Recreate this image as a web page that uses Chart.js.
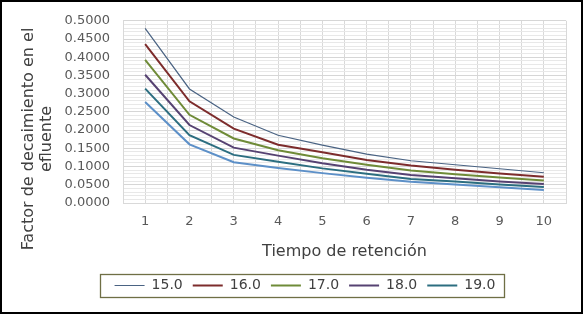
<!DOCTYPE html>
<html>
<head>
<meta charset="utf-8">
<script src="https://cdn.jsdelivr.net/npm/chart.js@4/dist/chart.umd.min.js"></script>
<style>
  body { margin: 0; background: #fff; }
  #wrap { width: 586px; height: 317px; }
</style>
</head>
<body>
<div id="wrap"><canvas id="decay_chart" width="586" height="317"></canvas></div>
<script>
// tiempo de retencion
const tiempo = [1, 2, 3, 4, 5, 6, 7, 8, 9, 10];

// factor de decaimiento
const serie_15 = [0.479, 0.313, 0.236, 0.186, 0.159, 0.134, 0.116, 0.105, 0.094, 0.083];
const serie_16 = [0.436, 0.279, 0.204, 0.160, 0.139, 0.118, 0.103, 0.091, 0.081, 0.072];
const serie_17 = [0.393, 0.242, 0.177, 0.145, 0.123, 0.105, 0.089, 0.079, 0.070, 0.062];
const serie_18 = [0.352, 0.214, 0.152, 0.130, 0.109, 0.091, 0.077, 0.068, 0.059, 0.052];
const serie_19 = [0.314, 0.186, 0.132, 0.113, 0.095, 0.080, 0.066, 0.059, 0.051, 0.044];
const serie_20 = [0.277, 0.161, 0.112, 0.096, 0.082, 0.069, 0.058, 0.051, 0.043, 0.036];

const series_labels = ['15.0', '16.0', '17.0', '18.0', '19.0', '20.0'];

const y_title = ['Factor de decaimiento en el', 'efluente'];
const x_title = 'Tiempo de retención';

const font_name = "'DejaVu Sans', sans-serif";

function makeSet(label, data, color, width, inLegend) {
    let points = []
    for (let i = 0; i < tiempo.length; i++) {
        points.push({ x: tiempo[i], y: data[i] })
    }
    return {
        label: label,
        data: points,
        borderColor: color,
        backgroundColor: color,
        borderWidth: width,
        pointRadius: 0,
        tension: 0,
        fill: false,
        inLegend: inLegend
    };
}

// frame, legend box and the rotated y title
const extrasPlugin = {
    id: 'extras',
    afterLayout(chart) {
        chart.legend.left += 22;
        chart.legend.right += 22;
    },
    afterDraw(chart) {
        const ctx = chart.ctx;
        ctx.save();

        // legend box
        const boxes = chart.legend.legendHitBoxes;
        if (boxes && boxes.length) {
            let l = Infinity, r = -Infinity;
            boxes.forEach(b => { l = Math.min(l, b.left); r = Math.max(r, b.left + b.width); });
            const mid = boxes[0].top + boxes[0].height / 2;
            ctx.strokeStyle = '#6f6f45';
            ctx.lineWidth = 1.3;
            ctx.strokeRect(Math.round(l - 15) + 0.5, Math.round(mid - 11.5) + 0.5, Math.round(r - l + 23), 23);
        }

        // y axis title
        ctx.fillStyle = '#404040';
        ctx.font = '16px ' + font_name;
        ctx.textAlign = 'center';
        ctx.textBaseline = 'middle';
        ctx.translate(0, 139);
        ctx.rotate(-Math.PI / 2);
        ctx.fillText(y_title[0], 0, 29);
        ctx.fillText(y_title[1], 0, 47);
        ctx.restore();

        // outer frame
        ctx.save();
        ctx.strokeStyle = '#000';
        ctx.lineWidth = 2;
        ctx.strokeRect(1, 1, 581, 312);
        ctx.restore();
    }
};

const decay_data = {
    datasets: [
        makeSet(series_labels[0], serie_15, '#4a6383', 1.2, true),
        makeSet(series_labels[1], serie_16, '#7d2c2c', 2, true),
        makeSet(series_labels[2], serie_17, '#6f8b38', 2, true),
        makeSet(series_labels[3], serie_18, '#564272', 2, true),
        makeSet(series_labels[4], serie_19, '#2c6e80', 2, true),
        makeSet(series_labels[5], serie_20, '#5d90c8', 2, false)
    ]
};

const isMajorY = v => Math.round(v * 100) % 5 === 0;

const decay_config = {
    type: 'line',
    data: decay_data,
    plugins: [extrasPlugin],
    options: {
        responsive: false,
        animation: false,
        layout: {
            padding: { top: 18, right: 20, left: 0, bottom: 14.5 }
        },
        plugins: {
            tooltip: { enabled: false },
            legend: {
                position: 'bottom',
                labels: {
                    usePointStyle: true,
                    pointStyle: 'line',
                    pointStyleWidth: 30,
                    padding: 10,
                    color: '#404040',
                    font: { family: font_name, size: 14 },
                    filter: (item, data) => data.datasets[item.datasetIndex].inLegend
                }
            }
        },
        scales: {
            x: {
                type: 'linear',
                min: 0.5,
                max: 10.5,
                grid: { color: '#d9d9d9', drawTicks: false },
                border: { color: '#d9d9d9' },
                ticks: {
                    stepSize: 0.5,
                    autoSkip: false,
                    maxRotation: 0,
                    padding: 11,
                    color: '#595959',
                    font: { family: font_name, size: 13 },
                    callback: v => Number.isInteger(v) ? String(v) : ''
                },
                title: {
                    display: true,
                    text: x_title,
                    color: '#404040',
                    font: { family: font_name, size: 16 },
                    padding: { top: 4, bottom: 7 }
                },
                afterFit: s => { s.height = 65.5; }
            },
            y: {
                min: 0,
                max: 0.5,
                grid: {
                    drawTicks: false,
                    color: c => isMajorY(c.tick.value) ? '#d6d6d6' : '#e8e8e8'
                },
                border: { color: '#d9d9d9' },
                ticks: {
                    stepSize: 0.01,
                    maxTicksLimit: 100,
                    autoSkip: false,
                    padding: 13,
                    color: '#595959',
                    font: { family: font_name, size: 13 },
                    callback: v => isMajorY(v) ? v.toFixed(4) : ''
                },
                afterFit: s => { s.width = 123; }
            }
        }
    }
};

const decay_chart = new Chart(
    document.getElementById('decay_chart'),
    decay_config
);
</script>
</body>
</html>
